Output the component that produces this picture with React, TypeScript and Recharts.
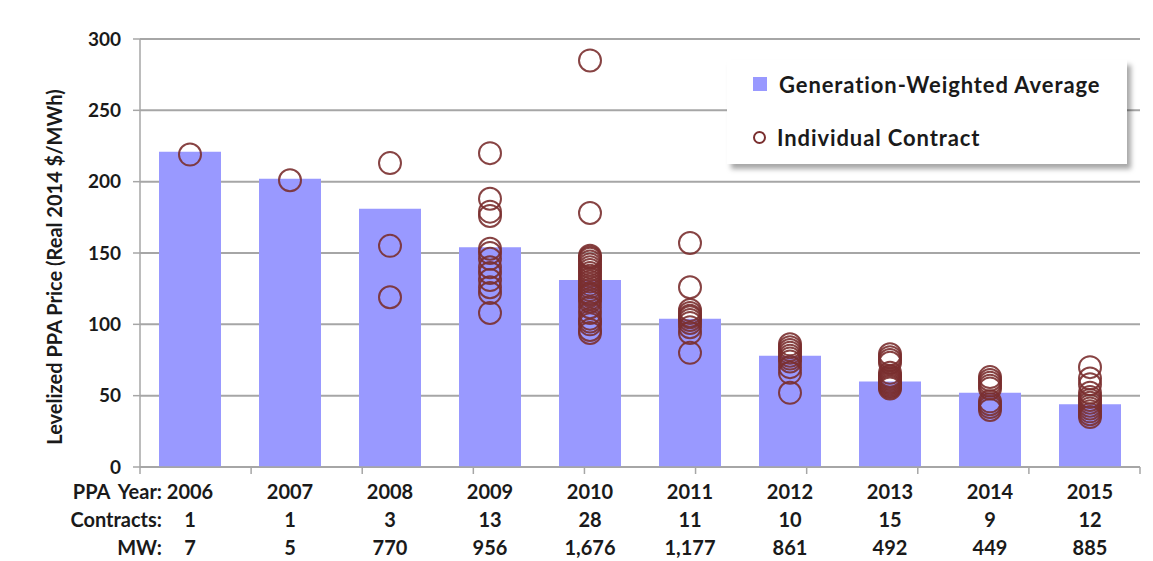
import { ComposedChart, Bar, Scatter, XAxis, YAxis, CartesianGrid } from 'recharts'

const years = ['2006', '2007', '2008', '2009', '2010', '2011', '2012', '2013', '2014', '2015']
const avgPrice = [221, 202, 181, 154, 131, 104, 78, 60, 52, 44]
const contractCounts = ['1', '1', '3', '13', '28', '11', '10', '15', '9', '12']
const capacityMW = ['7', '5', '770', '956', '1,676', '1,177', '861', '492', '449', '885']

// individual contract prices per PPA year
const prices2006 = [219]
const prices2007 = [201]
const prices2008 = [213, 155, 119]
const prices2009 = [220, 188, 179, 176, 153, 150, 146, 140, 136, 131, 126, 122, 108]
const prices2010 = [285, 178, 148, 147, 146, 144, 142, 140, 138, 136, 134, 132, 130, 128, 126, 124, 122, 121, 120, 118, 116, 112, 108, 104, 102, 100, 96, 94]
const prices2011 = [157, 126, 110, 108, 106, 105, 103, 101, 98, 94, 80]
const prices2012 = [86, 84, 82, 80, 78, 76, 74, 70, 66, 52]
const prices2013 = [79, 77, 75, 73, 66, 64, 63, 62, 61, 60, 59, 58, 57, 56, 55]
const prices2014 = [63, 61, 59, 57, 55, 46, 44, 42, 40]
const prices2015 = [70, 62, 58, 52, 49, 47, 45, 43, 41, 39, 37, 35]

const yTicks = [0, 50, 100, 150, 200, 250, 300]
const boundaryTicks = [0, 1, 2, 3, 4, 5, 6, 7, 8, 9, 10]

const BAR_COLOR = '#9999ff'
const DOT_COLOR = '#7a2f2f'
const GRID_COLOR = '#a6a6a6'
const TEXT_COLOR = '#1a1a1a'
const FONT = 'Lato, "Open Sans", sans-serif'

const chartData = years.map((year, i) => ({ year, avg: avgPrice[i] }))

const allPrices = [prices2006, prices2007, prices2008, prices2009, prices2010, prices2011, prices2012, prices2013, prices2014, prices2015]
const contractData = allPrices.flatMap((list, i) => list.map(price => ({ year: years[i], price })))

const ContractDot = (props: any) => {
    const { cx, cy } = props
    if (cx == null || cy == null) return null
    return <circle cx={cx} cy={cy} r={11} fill="none" stroke={DOT_COLOR} strokeWidth={2} strokeOpacity={0.9} />
}

const YearTick = (props: any) => {
    const { x, y, payload, index } = props
    const style = { fontFamily: FONT, fontSize: 20, fontWeight: 700, fill: TEXT_COLOR }
    return (
        <g>
            {index === 0 && (
                <>
                    <text x={x - 28} y={y + 31} textAnchor="end" {...style} wordSpacing={4}>PPA Year:</text>
                    <text x={x - 28} y={y + 59} textAnchor="end" {...style}>Contracts:</text>
                    <text x={x - 28} y={y + 87} textAnchor="end" {...style}>MW:</text>
                </>
            )}
            <text x={x} y={y + 31} textAnchor="middle" {...style}>{payload.value}</text>
            <text x={x} y={y + 59} textAnchor="middle" {...style}>{contractCounts[index]}</text>
            <text x={x} y={y + 87} textAnchor="middle" {...style}>{capacityMW[index]}</text>
        </g>
    )
}

const NoTick = () => <g />

const LegendBox = () => (
    <div style={{
        position: 'absolute', left: 727, top: 60, background: '#fff', width: 400, height: 104,
        boxShadow: '4px 5px 5px rgba(0,0,0,0.35)', fontFamily: FONT, fontWeight: 700, fontSize: 22,
        letterSpacing: 0.9, color: TEXT_COLOR, boxSizing: 'border-box', padding: '0 0 0 26px',
    }}>
        <div style={{ display: 'flex', alignItems: 'center', height: 48 }}>
            <span style={{ width: 14, height: 14, background: BAR_COLOR, marginRight: 12 }} />
            Generation-Weighted Average
        </div>
        <div style={{ display: 'flex', alignItems: 'center', height: 48, marginTop: 5 }}>
            <span style={{ width: 13, height: 13, border: `2px solid ${DOT_COLOR}`, borderRadius: '50%', marginRight: 11, boxSizing: 'border-box' }} />
            Individual Contract
        </div>
    </div>
)

export default function App() {
    return (
        <div style={{ position: 'absolute', left: 0, top: 0, width: 1153, height: 561, background: '#fff' }}>
            <ComposedChart width={1153} height={561} data={chartData} margin={{ top: 39, right: 13, left: 40, bottom: 0 }}>
                <CartesianGrid vertical={false} stroke={GRID_COLOR} strokeWidth={2} />
                {/* boundary ticks between the year columns, sits right under the plot */}
                <XAxis xAxisId={0} type="number" domain={[0, 10]} ticks={boundaryTicks} interval={0} height={1}
                    tick={<NoTick />} tickSize={7} axisLine={{ stroke: GRID_COLOR, strokeWidth: 1.5 }}
                    tickLine={{ stroke: GRID_COLOR, strokeWidth: 1.5 }} allowDataOverflow />
                <XAxis xAxisId="year" dataKey="year" type="category" allowDuplicatedCategory={false} height={93}
                    axisLine={false} tickLine={false} tickSize={0} tickMargin={0} tick={<YearTick />} interval={0} />
                <YAxis domain={[0, 300]} ticks={yTicks} width={100} tickSize={7} tickMargin={12}
                    stroke={GRID_COLOR} strokeWidth={1.5}
                    tick={{ fontFamily: FONT, fontSize: 19, fontWeight: 700, fill: TEXT_COLOR }}
                    label={{ value: 'Levelized  PPA Price (Real 2014 $/MWh)', angle: -90, position: 'center', dx: -35, dy: 14,
                        style: { fontFamily: FONT, fontSize: 20, fontWeight: 700, fill: TEXT_COLOR, whiteSpace: 'pre' } }} />
                <Bar xAxisId="year" dataKey="avg" fill={BAR_COLOR} barSize={62} isAnimationActive={false} />
                <Scatter xAxisId="year" data={contractData} dataKey="price" shape={<ContractDot />} isAnimationActive={false} />
            </ComposedChart>
            <LegendBox />
        </div>
    )
}
